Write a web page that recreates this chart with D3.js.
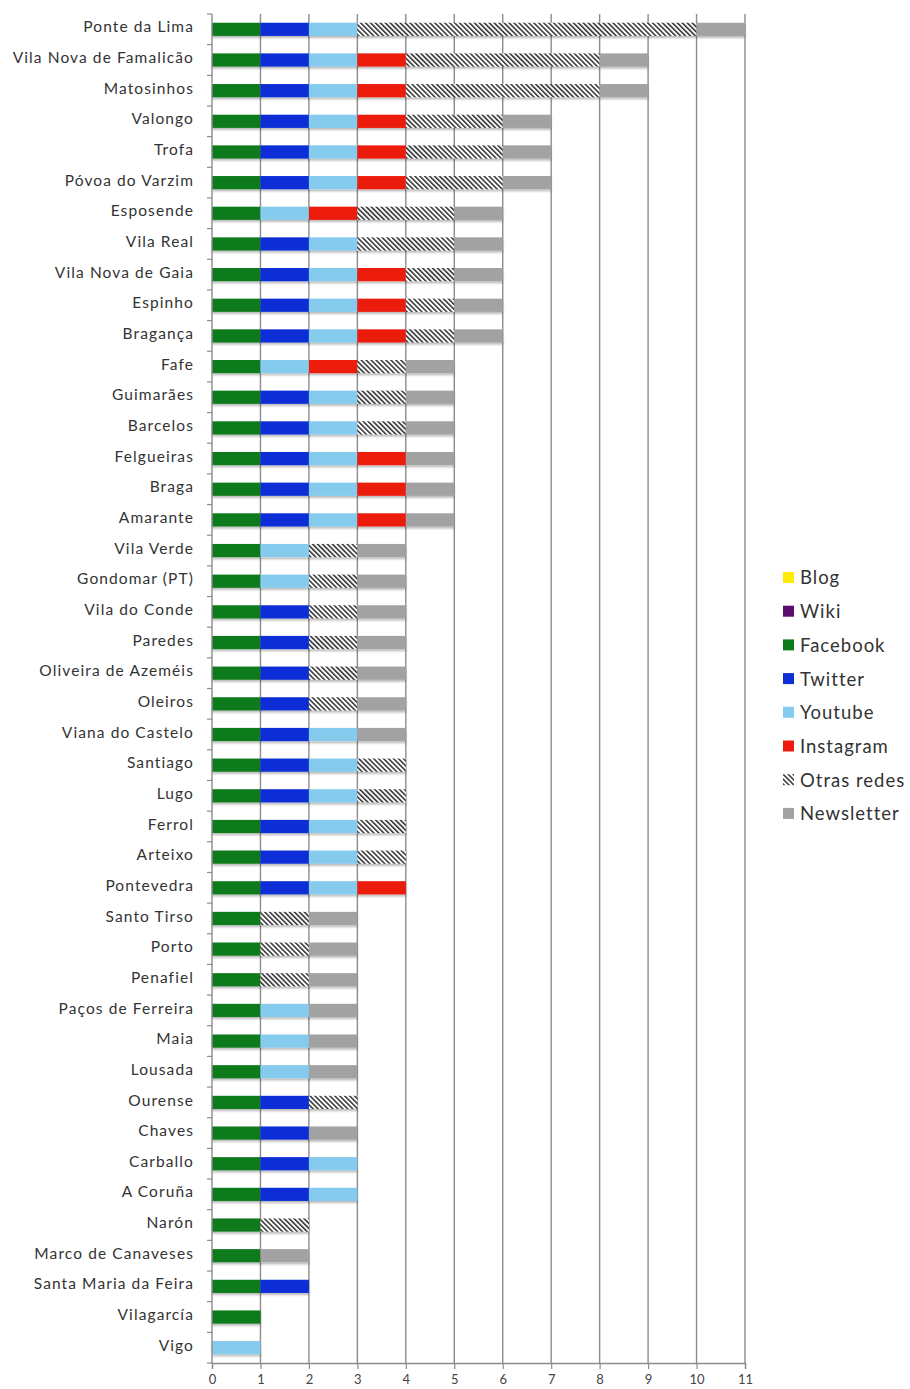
<!DOCTYPE html>
<html>
<head>
<meta charset="utf-8">
<script src="https://cdn.jsdelivr.net/npm/d3@7"></script>
<style>
  html, body { margin: 0; padding: 0; background: #ffffff; }
  svg { display: block; }
</style>
</head>
<body>
<div id="chart"></div>
<script>
// Municipalities, top to bottom
const categories = [
  "Ponte da Lima", "Vila Nova de Famalicão", "Matosinhos", "Valongo", "Trofa",
  "Póvoa do Varzim", "Esposende", "Vila Real", "Vila Nova de Gaia", "Espinho",
  "Bragança", "Fafe", "Guimarães", "Barcelos", "Felgueiras", "Braga", "Amarante",
  "Vila Verde", "Gondomar (PT)", "Vila do Conde", "Paredes", "Oliveira de Azeméis",
  "Oleiros", "Viana do Castelo", "Santiago", "Lugo", "Ferrol", "Arteixo",
  "Pontevedra", "Santo Tirso", "Porto", "Penafiel", "Paços de Ferreira", "Maia",
  "Lousada", "Ourense", "Chaves", "Carballo", "A Coruña", "Narón",
  "Marco de Canaveses", "Santa Maria da Feira", "Vilagarcía", "Vigo"
];

// Number of channels per municipality, one array per channel
const blog       = [0,0,0,0,0,0,0,0,0,0,0,0,0,0,0,0,0,0,0,0,0,0,0,0,0,0,0,0,0,0,0,0,0,0,0,0,0,0,0,0,0,0,0,0];
const wiki       = [0,0,0,0,0,0,0,0,0,0,0,0,0,0,0,0,0,0,0,0,0,0,0,0,0,0,0,0,0,0,0,0,0,0,0,0,0,0,0,0,0,0,0,0];
const facebook   = [1,1,1,1,1,1,1,1,1,1,1,1,1,1,1,1,1,1,1,1,1,1,1,1,1,1,1,1,1,1,1,1,1,1,1,1,1,1,1,1,1,1,1,0];
const twitter    = [1,1,1,1,1,1,0,1,1,1,1,0,1,1,1,1,1,0,0,1,1,1,1,1,1,1,1,1,1,0,0,0,0,0,0,1,1,1,1,0,0,1,0,0];
const youtube    = [1,1,1,1,1,1,1,1,1,1,1,1,1,1,1,1,1,1,1,0,0,0,0,1,1,1,1,1,1,0,0,0,1,1,1,0,0,1,1,0,0,0,0,1];
const instagram  = [0,1,1,1,1,1,1,0,1,1,1,1,0,0,1,1,1,0,0,0,0,0,0,0,0,0,0,0,1,0,0,0,0,0,0,0,0,0,0,0,0,0,0,0];
const otrasRedes = [7,4,4,2,2,2,2,2,1,1,1,1,1,1,0,0,0,1,1,1,1,1,1,0,1,1,1,1,0,1,1,1,0,0,0,1,0,0,0,1,0,0,0,0];
const newsletter = [1,1,1,1,1,1,1,1,1,1,1,1,1,1,1,1,1,1,1,1,1,1,1,1,0,0,0,0,0,1,1,1,1,1,1,0,1,0,0,0,1,0,0,0];

const seriesNames = ["Blog", "Wiki", "Facebook", "Twitter", "Youtube", "Instagram", "Otras redes", "Newsletter"];
const seriesValues = [blog, wiki, facebook, twitter, youtube, instagram, otrasRedes, newsletter];
const seriesColors = ["#ffec00", "#5b0d6e", "#0d7a1c", "#0b2ed6", "#84cbee", "#ec1a0c", "url(#hatch)", "#a2a2a2"];
const xTicks = [0,1,2,3,4,5,6,7,8,9,10,11];

const W = 910, H = 1389;
const plot = { left: 212, right: 745, top: 14, bottom: 1363 };
const FONT = "Lato, 'Open Sans', sans-serif";

const rows = categories.map((c, i) => {
  const r = { name: c };
  seriesNames.forEach((s, k) => { r[s] = seriesValues[k][i]; });
  return r;
});

const stack = d3.stack().keys(seriesNames)(rows);

const x = d3.scaleLinear().domain([0, 11]).range([plot.left, plot.right]);
const y = d3.scaleBand().domain(categories).range([plot.top, plot.bottom])
  .paddingInner(0.57).paddingOuter(0.285);

const svg = d3.select("#chart").append("svg").attr("width", W).attr("height", H);
const defs = svg.append("defs");

// diagonal hatch for "Otras redes"
const pat = defs.append("pattern").attr("id", "hatch")
  .attr("patternUnits", "userSpaceOnUse").attr("width", 3.5).attr("height", 3.5)
  .attr("patternTransform", "rotate(-45)");
pat.append("rect").attr("width", 3.5).attr("height", 3.5).attr("fill", "#ffffff");
pat.append("line").attr("x1", 0.8).attr("y1", 0).attr("x2", 0.8).attr("y2", 3.5)
  .attr("stroke", "#1a1a1a").attr("stroke-width", 1.4);

// soft shadow under bars
const f = defs.append("filter").attr("id", "shadow")
  .attr("x", "-5%").attr("y", "-30%").attr("width", "110%").attr("height", "180%");
f.append("feDropShadow").attr("dx", 0).attr("dy", 2).attr("stdDeviation", 1.3)
  .attr("flood-color", "#000").attr("flood-opacity", 0.28);

// vertical gridlines
svg.append("g").selectAll("line").data(xTicks.slice(1)).join("line")
  .attr("x1", d => x(d)).attr("x2", d => x(d))
  .attr("y1", plot.top).attr("y2", plot.bottom)
  .attr("stroke", "#8c8c8c").attr("stroke-width", 1.4);

// stacked bars
const barG = svg.append("g").attr("filter", "url(#shadow)");
stack.forEach((layer, k) => {
  barG.append("g").attr("fill", seriesColors[k])
    .selectAll("rect").data(layer.filter(d => d[1] - d[0] > 0)).join("rect")
    .attr("x", d => x(d[0]))
    .attr("width", d => x(d[1]) - x(d[0]))
    .attr("y", d => y(d.data.name))
    .attr("height", y.bandwidth());
});

// category axis: labels
const yAxis = svg.append("g").attr("transform", `translate(${plot.left},0)`)
  .call(d3.axisLeft(y).tickSize(0).tickPadding(18));
yAxis.select(".domain").remove();
yAxis.selectAll("text")
  .attr("font-family", FONT)
  .attr("font-size", 15.5).attr("letter-spacing", 1.1)
  .attr("fill", "#333").attr("dy", "0.2em");

// category axis line and boundary ticks
const step = y.step();
const bounds = d3.range(categories.length + 1).map(i => plot.top + i * step);
svg.append("line").attr("x1", plot.left).attr("x2", plot.left)
  .attr("y1", plot.top).attr("y2", plot.bottom)
  .attr("stroke", "#8c8c8c").attr("stroke-width", 1.4);
svg.append("g").selectAll("line").data(bounds).join("line")
  .attr("x1", plot.left - 5).attr("x2", plot.left)
  .attr("y1", d => d).attr("y2", d => d)
  .attr("stroke", "#8c8c8c").attr("stroke-width", 1.2);

// value axis
const xAxis = svg.append("g").attr("transform", `translate(0,${plot.bottom})`)
  .call(d3.axisBottom(x).tickValues(xTicks).tickFormat(d3.format("d")).tickSize(6).tickPadding(6));
xAxis.select(".domain").attr("stroke", "#8c8c8c").attr("stroke-width", 1.4);
xAxis.selectAll(".tick line").attr("stroke", "#8c8c8c").attr("stroke-width", 1.2);
xAxis.selectAll("text")
  .attr("font-family", FONT)
  .attr("font-size", 13).attr("fill", "#444");

// legend
const legend = svg.append("g").attr("transform", "translate(783,578)");
const items = legend.selectAll("g").data(seriesNames).join("g")
  .attr("transform", (d, i) => `translate(0,${i * 33.7})`);
items.append("rect").attr("x", 0).attr("y", -6).attr("width", 11).attr("height", 11)
  .attr("fill", (d, i) => seriesColors[i]);
items.append("text").attr("x", 17).attr("y", 0).attr("dy", "0.35em")
  .attr("font-family", FONT)
  .attr("font-size", 18.5).attr("letter-spacing", 1)
  .attr("fill", "#333")
  .text(d => d);
</script>
</body>
</html>
